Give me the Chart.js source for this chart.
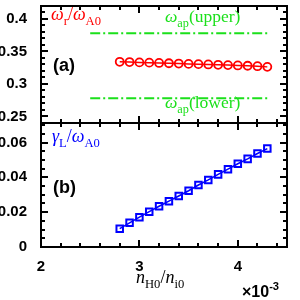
<!DOCTYPE html>
<html>
<head>
<meta charset="utf-8">
<script src="https://cdn.jsdelivr.net/npm/chart.js@4"></script>
<style>
  html, body { margin: 0; padding: 0; background: #fff; }
  #wrap { position: relative; width: 300px; height: 300px; }
  canvas { position: absolute; left: 0; top: 0; }
</style>
</head>
<body>
<div id="wrap">
  <canvas id="top-chart" width="300" height="300"></canvas>
  <canvas id="bottom-chart" width="300" height="300"></canvas>
</div>
<script>
// n_H0 / n_i0 (x 10^-3)
const nRatio = [2.8, 2.9, 3.0, 3.1, 3.2, 3.3, 3.4, 3.5, 3.6, 3.7, 3.8, 3.9, 4.0, 4.1, 4.2, 4.3];
// real frequency omega_r / omega_A0
const omegaR = [0.334, 0.3336, 0.3331, 0.3327, 0.3322, 0.3318, 0.3313, 0.3308, 0.3304, 0.3299, 0.3294, 0.3289, 0.3284, 0.3279, 0.3272, 0.3262];
// growth rate gamma_L / omega_A0
const gammaL = [0.0105, 0.0139, 0.0171, 0.0203, 0.0234, 0.0263, 0.0293, 0.0323, 0.0356, 0.0385, 0.0417, 0.0447, 0.0478, 0.0506, 0.0537, 0.0565];
// accumulation point frequencies
const apX = [2.5, 4.3];
const apUpper = [0.378, 0.378];
const apLower = [0.278, 0.278];

// tick labels
const xTicks = [2, 3, 4];
const yTicksTop = [0.25, 0.3, 0.35, 0.4];
const yTicksBottom = [0, 0.02, 0.04, 0.06];

const RED = '#ff0000';
const BLUE = '#0000ff';
const GREEN = '#1be01b';
const tickFont = { family: 'Liberation Sans', weight: 'bold', size: 15 };

function toXY(xs, ys) {
  return xs.map((x, i) => ({ x: x, y: ys[i] }));
}

// values between min and max on a step, used for minor ticks
function stepsBetween(min, max, step) {
  const out = [];
  const n = Math.round((max - min) / step);
  for (let i = 0; i <= n; i++) out.push(min + i * step);
  return out;
}

// Box frame with inward major/minor ticks on every side
function makeFrame(yMin, yMax, yMinor, yMajor) {
  return {
    id: 'frame',
    afterDraw(chart) {
      const ctx = chart.ctx;
      const a = chart.chartArea;
      const xs = chart.scales.x, ys = chart.scales.y;
      const L = Math.round(a.left), R = Math.round(a.right);
      const T = Math.round(a.top), B = Math.round(a.bottom);
      ctx.save();
      ctx.fillStyle = '#000';
      stepsBetween(2, 4.4, 0.2).forEach(v => {
        const px = Math.round(xs.getPixelForValue(v));
        const major = Math.abs(v - Math.round(v)) < 1e-6;
        const len = major ? 7 : 4;
        ctx.fillRect(px - 1, B - len, 2, len);
        ctx.fillRect(px - 1, T, 2, len);
      });
      stepsBetween(yMin, yMax, yMinor).forEach(v => {
        const py = Math.round(ys.getPixelForValue(v));
        const r = v / yMajor;
        const major = Math.abs(r - Math.round(r)) < 1e-6;
        const len = major ? 7 : 4;
        ctx.fillRect(L, py - 1, len, 2);
        ctx.fillRect(R - len, py - 1, len, 2);
      });
      // frame
      ctx.fillRect(L - 1, T - 1, R - L + 2, 2);
      ctx.fillRect(L - 1, B - 1, R - L + 2, 2);
      ctx.fillRect(L - 1, T - 1, 2, B - T + 2);
      ctx.fillRect(R - 1, T - 1, 2, B - T + 2);
      ctx.restore();
    }
  };
}

// draw text made of italic / upright / subscript / superscript parts
function drawRich(ctx, x, y, parts, color, size, family) {
  ctx.save();
  ctx.fillStyle = color;
  ctx.textBaseline = 'alphabetic';
  ctx.textAlign = 'left';
  parts.forEach(p => {
    const s = p.sub || p.sup ? size * 0.7 : size;
    ctx.font = (p.italic ? 'italic ' : '') + (p.bold ? 'bold ' : '') + s + 'px ' + (p.family || family);
    const dy = p.sub ? size * 0.28 : (p.sup ? -size * 0.45 : 0);
    ctx.fillText(p.t, x, y + dy);
    x += ctx.measureText(p.t).width;
  });
  ctx.restore();
}

const SERIF = '"Liberation Serif"';
const SANS = '"Liberation Sans"';

const topLabels = {
  id: 'topLabels',
  afterDraw(chart) {
    const ctx = chart.ctx;
    drawRich(ctx, 51, 20, [
      { t: 'ω', italic: true }, { t: 'r', sub: true }, { t: '/' },
      { t: 'ω', italic: true }, { t: 'A0', sub: true }
    ], RED, 18, SERIF);
    drawRich(ctx, 165, 22, [
      { t: 'ω', italic: true }, { t: 'ap', sub: true }, { t: '(upper)' }
    ], GREEN, 17.5, SERIF);
    drawRich(ctx, 165, 108, [
      { t: 'ω', italic: true }, { t: 'ap', sub: true }, { t: '(lower)' }
    ], GREEN, 17.5, SERIF);
    drawRich(ctx, 53, 71, [{ t: '(a)', bold: true }], '#000', 18, SANS);
  }
};

const bottomLabels = {
  id: 'bottomLabels',
  afterDraw(chart) {
    const ctx = chart.ctx;
    drawRich(ctx, 52, 142, [
      { t: 'γ', italic: true }, { t: 'L', sub: true }, { t: '/' },
      { t: 'ω', italic: true }, { t: 'A0', sub: true }
    ], BLUE, 18, SERIF);
    drawRich(ctx, 53, 193, [{ t: '(b)', bold: true }], '#000', 18, SANS);
    drawRich(ctx, 136, 283, [
      { t: 'n', italic: true }, { t: 'H0', sub: true }, { t: '/' },
      { t: 'n', italic: true }, { t: 'i0', sub: true }
    ], '#000', 18, SERIF);
    drawRich(ctx, 242, 297, [
      { t: '×10', bold: true }, { t: '-3', sup: true, bold: true }
    ], '#000', 16, SANS);
  }
};

function fixedTicks(list) {
  return function(scale) { scale.ticks = list.map(v => ({ value: v })); };
}

// keep the plot area where the layout padding puts it
function fitWidth(w) {
  return function(scale) { scale.width = w; scale.paddingTop = 0; scale.paddingBottom = 0; };
}

function plainLabel(value) {
  return String(value);
}

function initializeTopChart() {
  const ctx = document.getElementById('top-chart');
  return new Chart(ctx, {
    type: 'scatter',
    data: {
      datasets: [
        {
          data: toXY(nRatio, omegaR),
          showLine: true,
          borderColor: RED,
          borderWidth: 1.5,
          pointStyle: 'circle',
          pointRadius: 4,
          pointBorderWidth: 1.8,
          pointBorderColor: RED,
          pointBackgroundColor: 'rgba(0,0,0,0)'
        },
        {
          data: toXY(apX, apUpper),
          showLine: true,
          borderColor: GREEN,
          borderWidth: 2,
          borderDash: [10, 3, 2, 3],
          pointRadius: 0
        },
        {
          data: toXY(apX, apLower),
          showLine: true,
          borderColor: GREEN,
          borderWidth: 2,
          borderDash: [10, 3, 2, 3],
          pointRadius: 0
        }
      ]
    },
    options: {
      responsive: false,
      animation: false,
      layout: { padding: { top: 1, right: 13, bottom: 177, left: 0 } },
      plugins: { legend: { display: false }, tooltip: { enabled: false } },
      scales: {
        x: { type: 'linear', min: 2, max: 4.5, display: false },
        y: {
          type: 'linear',
          min: 0.24,
          max: 0.42,
          afterFit: fitWidth(41),
          afterBuildTicks: fixedTicks(yTicksTop),
          grid: { display: false },
          border: { display: false },
          ticks: { color: '#000', font: tickFont, padding: 6, callback: plainLabel }
        }
      }
    },
    plugins: [makeFrame(0.24, 0.42, 0.01, 0.05), topLabels]
  });
}

function initializeBottomChart() {
  const ctx = document.getElementById('bottom-chart');
  return new Chart(ctx, {
    type: 'scatter',
    data: {
      datasets: [
        {
          data: toXY(nRatio, gammaL),
          showLine: true,
          borderColor: BLUE,
          borderWidth: 1.5,
          pointStyle: 'rect',
          pointRadius: 4.6,
          pointBorderWidth: 2,
          pointBorderColor: BLUE,
          pointBackgroundColor: 'rgba(0,0,0,0)'
        }
      ]
    },
    options: {
      responsive: false,
      animation: false,
      layout: { padding: { top: 123, right: 13, bottom: 0, left: 0 } },
      plugins: { legend: { display: false }, tooltip: { enabled: false } },
      scales: {
        x: {
          type: 'linear',
          min: 2,
          max: 4.5,
          afterFit(scale) { scale.height = 53; scale.paddingLeft = 0; scale.paddingRight = 0; },
          afterBuildTicks: fixedTicks(xTicks),
          grid: { display: false },
          border: { display: false },
          ticks: { color: '#000', font: tickFont, padding: 3, maxRotation: 0, autoSkip: false, callback: plainLabel }
        },
        y: {
          type: 'linear',
          min: 0,
          max: 0.0712,
          afterFit: fitWidth(41),
          afterBuildTicks: fixedTicks(yTicksBottom),
          grid: { display: false },
          border: { display: false },
          ticks: { color: '#000', font: tickFont, padding: 6, callback: plainLabel }
        }
      }
    },
    plugins: [makeFrame(0, 0.07, 0.005, 0.02), bottomLabels]
  });
}

document.addEventListener('DOMContentLoaded', function() {
  initializeTopChart();
  initializeBottomChart();
});
</script>
</body>
</html>
